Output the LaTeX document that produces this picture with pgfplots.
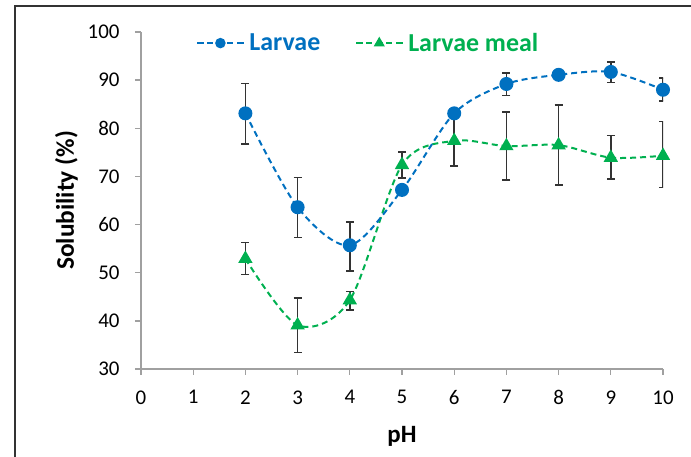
\documentclass[border=0pt]{standalone}
\usepackage{fontspec}
\setmainfont{Carlito}
\usepackage{pgfplots}
\pgfplotsset{compat=1.18}
\definecolor{lblue}{HTML}{0070C0}
\definecolor{lgreen}{HTML}{00B050}
\definecolor{axgray}{HTML}{A0A0A0}
\definecolor{errgray}{HTML}{333333}

\pgfplotstableread{
x y ep em
2 83.1 6.2 6.4
3 63.6 6.2 6.3
4 55.7 4.9 5.3
5 67.2 0.8 0.8
6 83.1 0.8 0.8
7 89.2 2.3 2.4
8 91.1 0.8 0.8
9 91.7 2.0 2.2
10 88.0 2.4 2.4
}\larvae

\pgfplotstableread{
x y ep em
2 52.9 3.4 3.3
3 39.1 5.6 5.7
4 44.3 1.8 2.0
5 72.4 2.7 2.7
6 77.4 5.7 5.2
7 76.3 7.1 7.0
8 76.5 8.3 8.3
9 73.9 4.6 4.4
10 74.3 7.1 6.6
}\meal

\begin{document}
\begin{tikzpicture}[x=1bp,y=1bp]
\useasboundingbox (-141,-88) rectangle (550,369);
\draw[line width=1.5bp, black!80] (-126,-88) -- (-126,363) -- (550,363);
\begin{axis}[at={(0,0)}, anchor=south west, scale only axis,
  width=522bp, height=337bp,
  xmin=0, xmax=10, ymin=30, ymax=100,
  axis lines=left,
  axis line style={axgray, line width=1.3bp, -},
  xtick={0,...,10}, ytick={30,40,...,100},
  tick style={axgray, line width=1.3bp},
  tick align=outside, major tick length=6bp,
  ticklabel style={font=\fontsize{21}{21}\selectfont, black},
  xticklabel style={yshift=-12bp},
  yticklabel style={xshift=-12bp},
  /pgf/number format/assume math mode=true,
  xlabel={pH}, ylabel={Solubility (\%)},
  every axis y label/.style={at={(axis description cs:-0.143,0.5)}, rotate=90, anchor=center, font=\fontsize{25.5}{25.5}\selectfont\bfseries},
  every axis x label/.style={at={(axis description cs:0.5,-0.2)}, anchor=center, font=\fontsize{25}{25}\selectfont\bfseries},
  legend style={at={(axis description cs:0.1,0.967)}, anchor=west, draw=none, fill=none,
    font=\fontsize{26}{26}\selectfont\bfseries,
    /tikz/every even column/.append style={column sep=30bp},
    nodes={inner sep=5bp}},
  legend columns=2, reverse legend,
  legend image code/.code={\draw[#1, every mark/.append style={scale=0.7}, mark repeat=2, mark phase=2] plot coordinates {(0bp,0bp) (23bp,0bp) (46bp,0bp)};},
  error bars/error bar style={errgray, line width=1.7bp, solid},
  error bars/error mark options={rotate=90, mark size=4bp, errgray, line width=1.7bp, solid},
]
\addplot[lgreen, line width=2bp, dash pattern=on 6bp off 4bp, smooth,
  mark=triangle*, mark size=6.3bp, mark options={solid, lgreen},
  error bars/.cd, y dir=both, y explicit]
  table[x=x, y=y, y error plus=ep, y error minus=em] {\meal};
\addlegendentry{\textcolor{lgreen}{Larvae meal}}
\addplot[lblue, line width=2bp, dash pattern=on 6bp off 4bp, smooth,
  mark=*, mark size=6bp, mark options={solid, lblue},
  error bars/.cd, y dir=both, y explicit]
  table[x=x, y=y, y error plus=ep, y error minus=em] {\larvae};
\addlegendentry{\textcolor{lblue}{Larvae}}
\end{axis}
\end{tikzpicture}
\end{document}
